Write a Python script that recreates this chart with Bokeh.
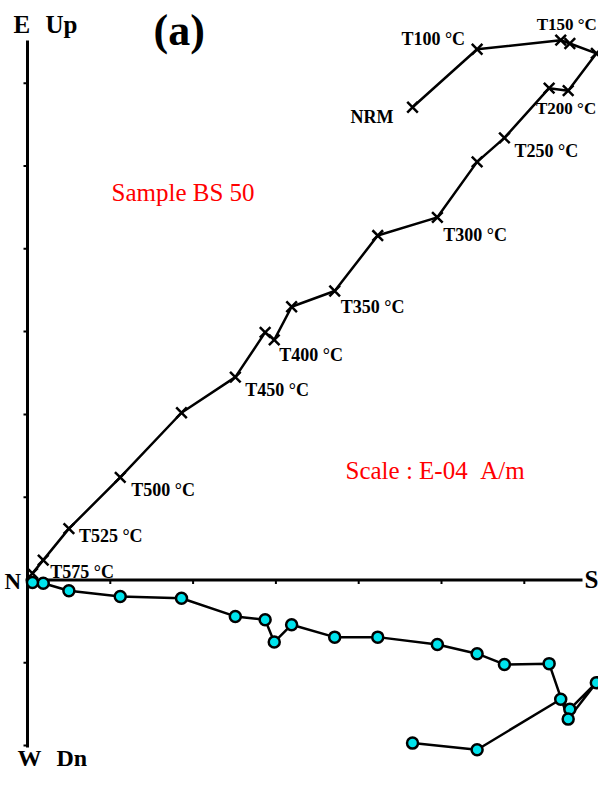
from bokeh.plotting import figure
from bokeh.models import ColumnDataSource, Range1d
from bokeh.core.properties import value
from bokeh.embed import file_html
from bokeh.resources import INLINE

# ---- data (tick units, 1 unit = one axis tick) ----
ns = [4.65, 5.43, 6.44, 6.55, 6.87, 6.53, 6.30, 5.76, 5.43, 4.95, 4.23,
      3.71, 3.19, 2.98, 2.87, 2.51, 1.86, 1.12, 0.50, 0.19, 0.06]
up = [5.71, 6.41, 6.52, 6.48, 6.36, 5.91, 5.94, 5.34, 5.05, 4.38, 4.16,
      3.49, 3.30, 2.90, 2.99, 2.45, 2.02, 1.24, 0.62, 0.24, 0.08]
ew = [-1.97, -2.05, -1.44, -1.56, -1.24, -1.68, -1.01, -1.02, -0.89, -0.78, -0.69,
      -0.69, -0.54, -0.75, -0.48, -0.44, -0.22, -0.20, -0.13, -0.04, -0.03]
step_labels = ["NRM", "T100 °C", "", "T150 °C", "", "T200 °C", "", "T250 °C", "",
               "T300 °C", "", "T350 °C", "", "T400 °C", "", "T450 °C", "",
               "T500 °C", "T525 °C", "T575 °C", ""]
x_ticks = [1, 2, 3, 4, 5, 6]
y_ticks = [-2, -1, 1, 2, 3, 4, 5, 6]
sample_text = "Sample BS 50"
scale_text = "Scale : E-04 \u00a0A/m"
panel_text = "(a)"

# ---- layout ----
PX = 82.8             # pixels per unit
OX, OY = 27.0, 579.5  # picture position of origin
W, H = 598, 769


def dx(px):
    return (px - OX) / PX


def dy(py):
    return (OY - py) / PX


x_start = dx(0)
y_end = dy(0)
p = figure(width=W, height=H,
           x_range=Range1d(x_start, x_start + W / PX),
           y_range=Range1d(y_end - H / PX, y_end),
           output_backend="svg", toolbar_location=None, min_border=0,
           x_axis_location=None, y_axis_location=None)
p.grid.visible = False
p.outline_line_color = None
p.background_fill_color = "white"
p.border_fill_color = "white"

# axes
p.line([0, 0], [dy(40), dy(747)], line_color="black", line_width=3)
p.line([dx(25), dx(582)], [0, 0], line_color="black", line_width=3)
tl = 4 / PX
p.segment(x0=x_ticks, y0=[0] * len(x_ticks), x1=x_ticks, y1=[-tl] * len(x_ticks),
          line_color="black", line_width=2)
p.segment(x0=[0] * len(y_ticks), y0=y_ticks, x1=[-tl] * len(y_ticks), y1=y_ticks,
          line_color="black", line_width=2)

# horizontal projection (circles)
p.line(ns, ew, line_color="black", line_width=2.5)
p.scatter(ns, ew, marker="circle", size=11, fill_color="#00E3EC",
          line_color="black", line_width=2.5)

# vertical projection (crosses)
p.line(ns, up, line_color="black", line_width=2.5)
p.scatter(ns, up, marker="x", size=15, line_color="black", line_width=2.5)

# step labels
xoff = [-19, -12, 0, 27, 0, 28, 0, 10, 0, 6, 0, 6, 0, 5, 0, 10, 0, 11, 10, 7, 0]
yoff = [10, -10, 0, -19, 0, 18, 0, 13, 0, 18, 0, 16, 0, 15, 0, 13, 0, 13, 7, 12, 0]
align = ["right", "right", "left", "right", "left", "right"] + ["left"] * (len(ns) - 6)
fsize = ["18px"] * len(ns)
fsize[3] = "17px"
fsize[5] = "17px"
lab_src = ColumnDataSource(dict(x=ns, y=up, t=step_labels, xo=xoff, yo=yoff,
                                al=align, fs=fsize))
p.text(x="x", y="y", text="t", x_offset="xo", y_offset="yo", text_align="al",
       text_baseline="middle", source=lab_src, text_font_size="fs",
       text_font=value("Liberation Serif"), text_font_style="bold",
       text_color="black")


# annotations (py = vertical centre of the capitals)
def txt(s, px, py, size, color="black", style="bold"):
    p.text(x=[dx(px)], y=[dy(py)], text=[s], text_font=value("Liberation Serif"),
           text_font_style=style, text_font_size=size, text_color=color,
           text_align="left", text_baseline="middle")


txt("E", 13, 24, "25px")
txt("Up", 45, 24, "25px")
txt("W", 17, 757, "24px")
txt("Dn", 56, 757, "24px")
txt("N", 4, 581, "23px")
txt("S", 584, 579, "25px")
txt(panel_text, 153, 30, "44px")
txt(sample_text, 111, 192, "25px", color="red", style="normal")
txt(scale_text, 345, 470, "25px", color="red", style="normal")

open("out.html", "w").write(file_html(p, INLINE))
